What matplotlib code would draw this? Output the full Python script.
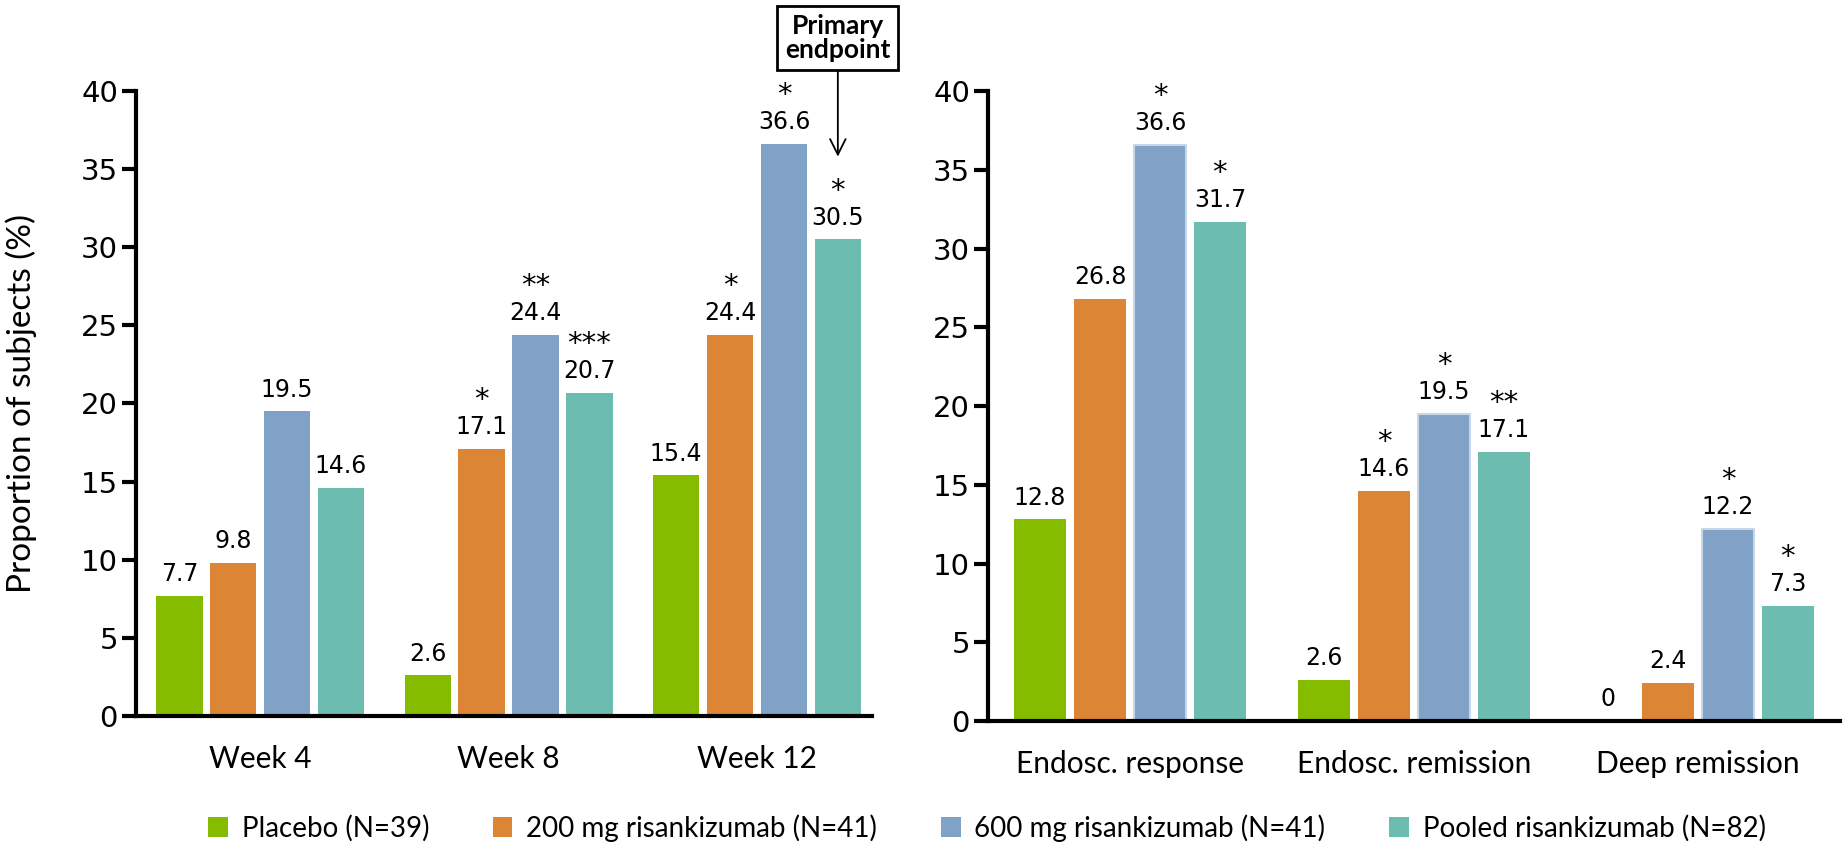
# Risankizumab: respuesta clínica (izq.) y endoscópica (der.) en barras agrupadas.
import matplotlib
matplotlib.use("Agg")
import matplotlib.pyplot as plt
from matplotlib.patches import Patch

# ---- datos ----
series = [
    "Placebo (N=39)",
    "200 mg risankizumab (N=41)",
    "600 mg risankizumab (N=41)",
    "Pooled risankizumab (N=82)",
]
colors = ["#85BC00", "#DC8535", "#7FA2C6", "#6CBCB0"]

weeks = ["Week 4", "Week 8", "Week 12"]
placebo_wk = [7.7, 2.6, 15.4]
r200_wk = [9.8, 17.1, 24.4]
r600_wk = [19.5, 24.4, 36.6]
pooled_wk = [14.6, 20.7, 30.5]
stars_wk = [
    ["", "", ""],
    ["", "*", "*"],
    ["", "**", "*"],
    ["", "***", "*"],
]

endo = ["Endosc. response", "Endosc. remission", "Deep remission"]
placebo_en = [12.8, 2.6, 0]
r200_en = [26.8, 14.6, 2.4]
r600_en = [36.6, 19.5, 12.2]
pooled_en = [31.7, 17.1, 7.3]
stars_en = [
    ["", "", ""],
    ["", "*", ""],
    ["*", "*", "*"],
    ["*", "**", "*"],
]

yticks = [0, 5, 10, 15, 20, 25, 30, 35, 40]

LABEL_FONT = "Lato"
NUM_FONT = "DejaVu Sans"

W, H = 1847, 846
fig = plt.figure(figsize=(W / 100, H / 100), dpi=100)


def px_axes(x0, x1, y_top, y_bot):
    return fig.add_axes([x0 / W, (H - y_bot) / H, (x1 - x0) / W, (y_bot - y_top) / H])


def style_axis(ax, cats):
    ax.set_ylim(0, 40)
    ax.set_yticks(yticks)
    ax.set_yticklabels([str(t) for t in yticks], fontsize=21, family=NUM_FONT)
    ax.set_xticks(range(len(cats)))
    ax.set_xticklabels(cats, fontsize=21.5, family=LABEL_FONT)
    for s in ("top", "right"):
        ax.spines[s].set_visible(False)
    for s in ("left", "bottom"):
        ax.spines[s].set_linewidth(3)
    ax.tick_params(axis="y", length=10, width=3, pad=3)
    ax.tick_params(axis="x", length=0, pad=21)


def draw_bars(ax, data, stars, width, step, edge_600=False):
    for i, (vals, st) in enumerate(zip(data, stars)):
        xs = [c + (i - 1.5) * step for c in range(len(vals))]
        kw = {}
        if edge_600 and i == 2:
            kw = dict(edgecolor="#C8D6E8", linewidth=1.5)
        ax.bar(xs, vals, width=width, color=colors[i], **kw)
        for x, v, s in zip(xs, vals, st):
            ax.annotate(f"{v:g}", (x, v), xytext=(0, 7), textcoords="offset points",
                        ha="center", va="bottom", fontsize=17, family=NUM_FONT)
            if s:
                ax.annotate(s, (x, v), xytext=(0, 25), textcoords="offset points",
                            ha="center", va="bottom", fontsize=21, family=NUM_FONT)


# panel izquierdo
ax1 = px_axes(136, 872, 91, 716)
ax1.set_xlim(-0.5, 2.463)
style_axis(ax1, weeks)
draw_bars(ax1, [placebo_wk, r200_wk, r600_wk, pooled_wk], stars_wk, 0.187, 0.217)
ax1.set_ylabel("Proportion of subjects (%)", fontsize=24, family=LABEL_FONT)
ax1.yaxis.set_label_coords(-0.135, 0.5)

# recuadro "Primary endpoint"
x_pe = 2 + 1.5 * 0.217
ax1.annotate("Primary\nendpoint", xy=(x_pe, 35.8), xytext=(x_pe, 43.4),
             textcoords="data", ha="center", va="center", fontsize=19,
             family=LABEL_FONT, fontweight="bold", linespacing=1.0,
             annotation_clip=False,
             bbox=dict(boxstyle="square,pad=0.3", fc="white", ec="black", lw=2),
             arrowprops=dict(arrowstyle="->", lw=1.3, color="black",
                             mutation_scale=28, shrinkA=0, shrinkB=0))

# panel derecho
ax2 = px_axes(988, 1840, 91, 721)
ax2.set_xlim(-0.5, 2.5)
style_axis(ax2, endo)
draw_bars(ax2, [placebo_en, r200_en, r600_en, pooled_en], stars_en, 0.183, 0.211, edge_600=True)

# leyenda
handles = [Patch(facecolor=c, edgecolor="none") for c in colors]
fig.legend(handles, series, loc="center", bbox_to_anchor=(987 / W, 1 - 828 / H),
           ncol=4, frameon=False, handlelength=0.7, handleheight=0.7,
           handletextpad=0.5, columnspacing=2.3,
           prop={"family": LABEL_FONT, "size": 20})

fig.savefig("out.png", dpi=100)
